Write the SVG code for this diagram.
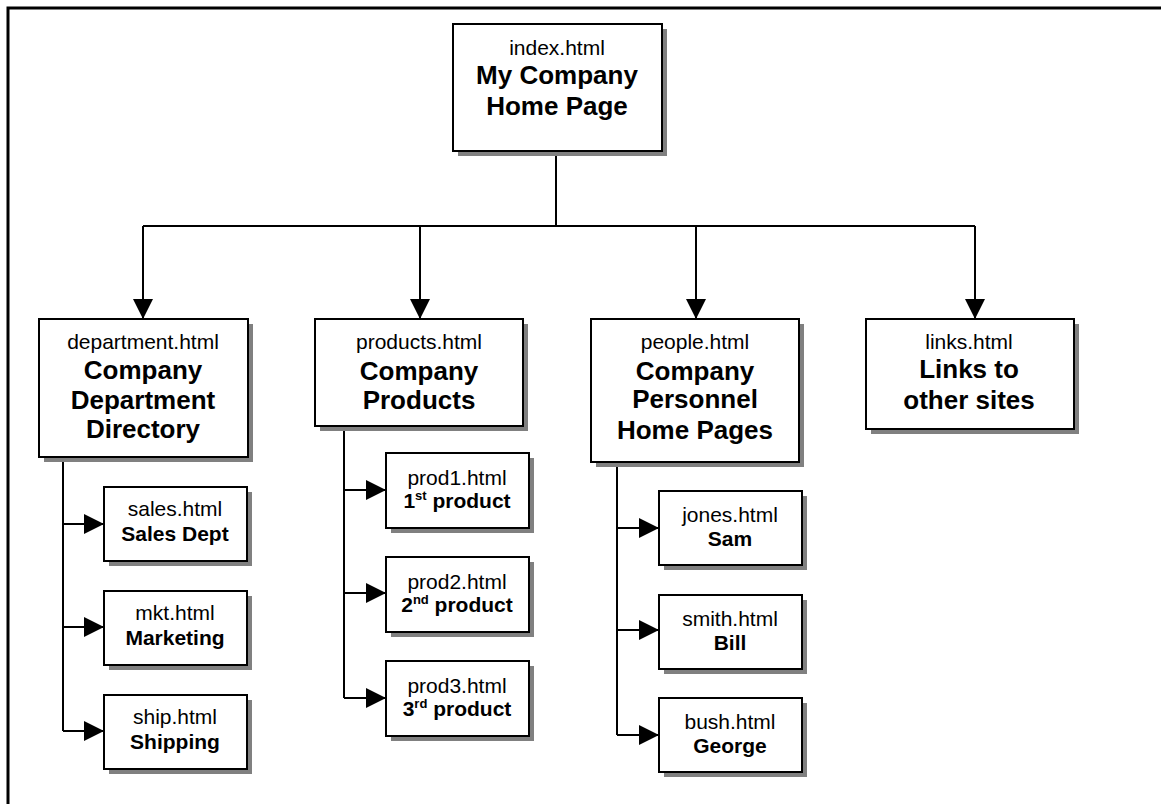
<svg xmlns="http://www.w3.org/2000/svg" width="1161" height="804" viewBox="0 0 1161 804">
<defs>
<style>
.box{fill:#fff;stroke:#000;stroke-width:2}
.sh{fill:#808080}
.c{fill:none;stroke:#000;stroke-width:2}
text{font-family:"Liberation Sans",Arial,sans-serif;text-anchor:middle;fill:#000}
.n{font-size:21px}
.b{font-size:26px;font-weight:bold}
.s{font-size:21px;font-weight:bold}
.sup{font-size:13px}
</style>
<marker id="ah" markerUnits="userSpaceOnUse" markerWidth="20" markerHeight="20" viewBox="0 0 20 20" refX="20" refY="10" orient="auto">
<path d="M0,0 L20,10 L0,20 Z" fill="#000"/>
</marker>
</defs>
<rect width="1161" height="804" fill="#fff"/>
<path d="M8,804 V8 H1161" fill="none" stroke="#000" stroke-width="3"/>

<g id="connectors">
<path class="c" d="M556,151 V226"/>
<path class="c" d="M143,226 H975"/>
<path class="c" d="M143,226 V319" marker-end="url(#ah)"/>
<path class="c" d="M420,226 V319" marker-end="url(#ah)"/>
<path class="c" d="M696,226 V319" marker-end="url(#ah)"/>
<path class="c" d="M975,226 V319" marker-end="url(#ah)"/>
<path class="c" d="M63,457 V731"/>
<path class="c" d="M63,524 H104" marker-end="url(#ah)"/>
<path class="c" d="M63,627 H104" marker-end="url(#ah)"/>
<path class="c" d="M63,731 H104" marker-end="url(#ah)"/>
<path class="c" d="M344,426 V698"/>
<path class="c" d="M344,490 H386" marker-end="url(#ah)"/>
<path class="c" d="M344,593 H386" marker-end="url(#ah)"/>
<path class="c" d="M344,698 H386" marker-end="url(#ah)"/>
<path class="c" d="M617,462 V735"/>
<path class="c" d="M617,528 H659" marker-end="url(#ah)"/>
<path class="c" d="M617,630 H659" marker-end="url(#ah)"/>
<path class="c" d="M617,735 H659" marker-end="url(#ah)"/>
</g>

<g id="index">
<rect class="sh" x="458" y="29" width="209" height="127"/>
<rect class="box" x="453" y="24" width="209" height="127"/>
<text class="n" x="557" y="55">index.html</text>
<text class="b" x="557" y="84">My Company</text>
<text class="b" x="557" y="115">Home Page</text>
</g>

<g id="department">
<rect class="sh" x="44" y="324" width="209" height="138"/>
<rect class="box" x="39" y="319" width="209" height="138"/>
<text class="n" x="143" y="349">department.html</text>
<text class="b" x="143" y="379">Company</text>
<text class="b" x="143" y="409">Department</text>
<text class="b" x="143" y="438">Directory</text>
</g>

<g id="products">
<rect class="sh" x="320" y="324" width="208" height="107"/>
<rect class="box" x="315" y="319" width="208" height="107"/>
<text class="n" x="419" y="349">products.html</text>
<text class="b" x="419" y="380">Company</text>
<text class="b" x="419" y="409">Products</text>
</g>

<g id="people">
<rect class="sh" x="596" y="324" width="208" height="143"/>
<rect class="box" x="591" y="319" width="208" height="143"/>
<text class="n" x="695" y="349">people.html</text>
<text class="b" x="695" y="380">Company</text>
<text class="b" x="695" y="408">Personnel</text>
<text class="b" x="695" y="439">Home Pages</text>
</g>

<g id="links">
<rect class="sh" x="871" y="324" width="208" height="110"/>
<rect class="box" x="866" y="319" width="208" height="110"/>
<text class="n" x="969" y="349">links.html</text>
<text class="b" x="969" y="378">Links to</text>
<text class="b" x="969" y="409">other sites</text>
</g>

<g id="sales">
<rect class="sh" x="109" y="492" width="143" height="74"/>
<rect class="box" x="104" y="487" width="143" height="74"/>
<text class="n" x="175" y="516">sales.html</text>
<text class="s" x="175" y="541">Sales Dept</text>
</g>

<g id="mkt">
<rect class="sh" x="109" y="596" width="143" height="74"/>
<rect class="box" x="104" y="591" width="143" height="74"/>
<text class="n" x="175" y="620">mkt.html</text>
<text class="s" x="175" y="645">Marketing</text>
</g>

<g id="ship">
<rect class="sh" x="109" y="700" width="143" height="74"/>
<rect class="box" x="104" y="695" width="143" height="74"/>
<text class="n" x="175" y="724">ship.html</text>
<text class="s" x="175" y="749">Shipping</text>
</g>

<g id="prod1">
<rect class="sh" x="391" y="458" width="143" height="75"/>
<rect class="box" x="386" y="453" width="143" height="75"/>
<text class="n" x="457" y="485">prod1.html</text>
<text class="s" x="457" y="508">1<tspan class="sup" dy="-8">st</tspan><tspan dy="8"> product</tspan></text>
</g>

<g id="prod2">
<rect class="sh" x="391" y="562" width="143" height="75"/>
<rect class="box" x="386" y="557" width="143" height="75"/>
<text class="n" x="457" y="589">prod2.html</text>
<text class="s" x="457" y="612">2<tspan class="sup" dy="-8">nd</tspan><tspan dy="8"> product</tspan></text>
</g>

<g id="prod3">
<rect class="sh" x="391" y="666" width="143" height="75"/>
<rect class="box" x="386" y="661" width="143" height="75"/>
<text class="n" x="457" y="693">prod3.html</text>
<text class="s" x="457" y="716">3<tspan class="sup" dy="-8">rd</tspan><tspan dy="8"> product</tspan></text>
</g>

<g id="jones">
<rect class="sh" x="664" y="496" width="143" height="74"/>
<rect class="box" x="659" y="491" width="143" height="74"/>
<text class="n" x="730" y="522">jones.html</text>
<text class="s" x="730" y="546">Sam</text>
</g>

<g id="smith">
<rect class="sh" x="664" y="600" width="143" height="74"/>
<rect class="box" x="659" y="595" width="143" height="74"/>
<text class="n" x="730" y="626">smith.html</text>
<text class="s" x="730" y="650">Bill</text>
</g>

<g id="bush">
<rect class="sh" x="664" y="703" width="143" height="74"/>
<rect class="box" x="659" y="698" width="143" height="74"/>
<text class="n" x="730" y="729">bush.html</text>
<text class="s" x="730" y="753">George</text>
</g>
</svg>
